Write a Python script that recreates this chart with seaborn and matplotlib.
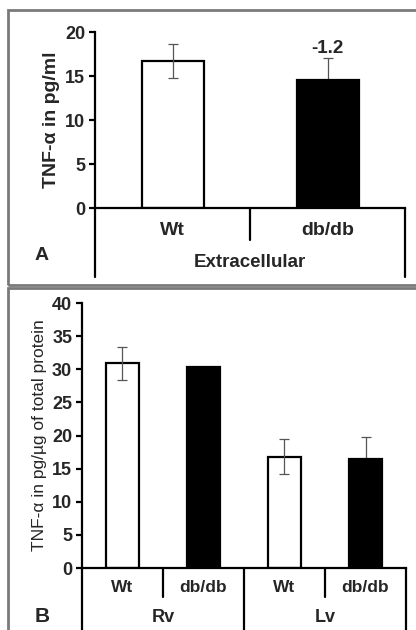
import numpy as np
import pandas as pd
import matplotlib
matplotlib.use("Agg")
import matplotlib.pyplot as plt
import seaborn as sns
from matplotlib.patches import Rectangle
from matplotlib.lines import Line2D

# panel A: extracellular
a_groups = ["Wt", "db/db"]
a_values = [16.7, 14.5]
a_err = [1.9, 2.6]
a_note = "-1.2"

# panel B: tissue levels
b_groups = ["Wt", "db/db", "Wt", "db/db"]
b_tissue = ["Rv", "Lv"]
b_values = [30.9, 30.3, 16.8, 16.5]
b_err = [2.5, 0.0, 2.6, 3.3]

sns.set_theme(style="ticks")
plt.rcParams['font.family'] = ['Liberation Sans', 'DejaVu Sans']

fig = plt.figure(figsize=(4.16, 6.3), dpi=100)

# gray panel frames
for y0, h in [(0.547, 0.437), (-0.01, 0.553)]:
    fig.patches.append(Rectangle((0.02, y0), 1.0, h, transform=fig.transFigure,
                                 fill=False, edgecolor="#7a7a7a", linewidth=2))

bar_cols = ["white", "black"]


def add_err(ax, xs, vals, errs, kinds):
    # on black bars the error bar sits behind the bar, so only the top half shows
    for x, v, e, k in zip(xs, vals, errs, kinds):
        if e <= 0:
            continue
        z = 5 if k == "Wt" else 0.5
        ax.errorbar(x, v, yerr=e, fmt="none", ecolor="#555555",
                    elinewidth=0.9, capsize=3.5, capthick=0.9, zorder=z)


# ---- panel A ----
axA = fig.add_axes([0.2284, 0.6698, 0.7452, 0.2794])
dfA = pd.DataFrame({"pos": [0, 1], "value": a_values, "geno": ["Wt", "db"]})
sns.barplot(data=dfA, x="pos", y="value", hue="geno", palette=bar_cols,
            edgecolor="black", linewidth=1.6, width=0.4, legend=False,
            dodge=False, ax=axA)
add_err(axA, [0, 1], a_values, a_err, dfA["geno"])
axA.set_ylim(0, 20)
axA.set_xlim(-0.5, 1.5)
axA.set_yticks([0, 5, 10, 15, 20])
axA.set_xticks([])
axA.set_xlabel("")
axA.set_ylabel("TNF-α in pg/ml", fontsize=14, fontweight="bold", labelpad=4)
axA.text(1, a_values[1] + a_err[1] + 0.1, a_note, ha="center", va="bottom",
         fontsize=13.5, fontweight="bold")
sns.despine(ax=axA, top=True, right=True)

# ---- panel B ----
axB = fig.add_axes([0.197, 0.0984, 0.779, 0.4206])
dfB = pd.DataFrame({"pos": range(4), "value": b_values,
                    "geno": ["Wt", "db", "Wt", "db"]})
sns.barplot(data=dfB, x="pos", y="value", hue="geno", palette=bar_cols,
            edgecolor="black", linewidth=1.6, width=0.4, legend=False,
            dodge=False, ax=axB)
add_err(axB, range(4), b_values, b_err, dfB["geno"])
axB.set_ylim(0, 40)
axB.set_xlim(-0.5, 3.5)
axB.set_yticks(range(0, 41, 5))
axB.set_xticks([])
axB.set_xlabel("")
axB.set_ylabel("TNF-α in pg/µg of total protein", fontsize=12.5, labelpad=4)
sns.despine(ax=axB, top=True, right=True)

for ax in (axA, axB):
    ax.spines["left"].set_linewidth(1.6)
    ax.spines["bottom"].set_linewidth(1.6)
    ax.spines["left"].set_color("black")
    ax.spines["bottom"].set_color("black")
    ax.tick_params(axis="y", labelsize=13, length=4, width=1.6, color="black", pad=3)
    for t in ax.get_yticklabels():
        t.set_fontweight("bold")


def vline(ax, x, y_bottom):
    ax.add_line(Line2D([x, x], [0, y_bottom], transform=ax.get_xaxis_transform(),
                       color="black", linewidth=1.6, clip_on=False))


# panel A category axis
for x in [-0.5, 1.5]:
    vline(axA, x, -0.39)
vline(axA, 0.5, -0.18)
for i, g in enumerate(a_groups):
    axA.text(i, -0.125, g, transform=axA.get_xaxis_transform(), ha="center",
             va="center", fontsize=14, fontweight="bold")
axA.text(0.5, -0.31, "Extracellular", transform=axA.get_xaxis_transform(),
         ha="center", va="center", fontsize=13.5, fontweight="bold")
fig.text(42 / 416, 1 - 255 / 630, "A", ha="center", va="center",
         fontsize=14, fontweight="bold")

# panel B category axis
for x in [-0.5, 1.5, 3.5]:
    vline(axB, x, -0.24)
for x in [0.5, 2.5]:
    vline(axB, x, -0.11)
for i, g in enumerate(b_groups):
    axB.text(i, -0.072, g, transform=axB.get_xaxis_transform(), ha="center",
             va="center", fontsize=12.5, fontweight="bold")
for j, t in enumerate(b_tissue):
    axB.text(2 * j + 0.5, -0.185, t, transform=axB.get_xaxis_transform(),
             ha="center", va="center", fontsize=13, fontweight="bold")
fig.text(42 / 416, 1 - 617 / 630, "B", ha="center", va="center",
         fontsize=15, fontweight="bold")

fig.savefig("out.png", dpi=100)
